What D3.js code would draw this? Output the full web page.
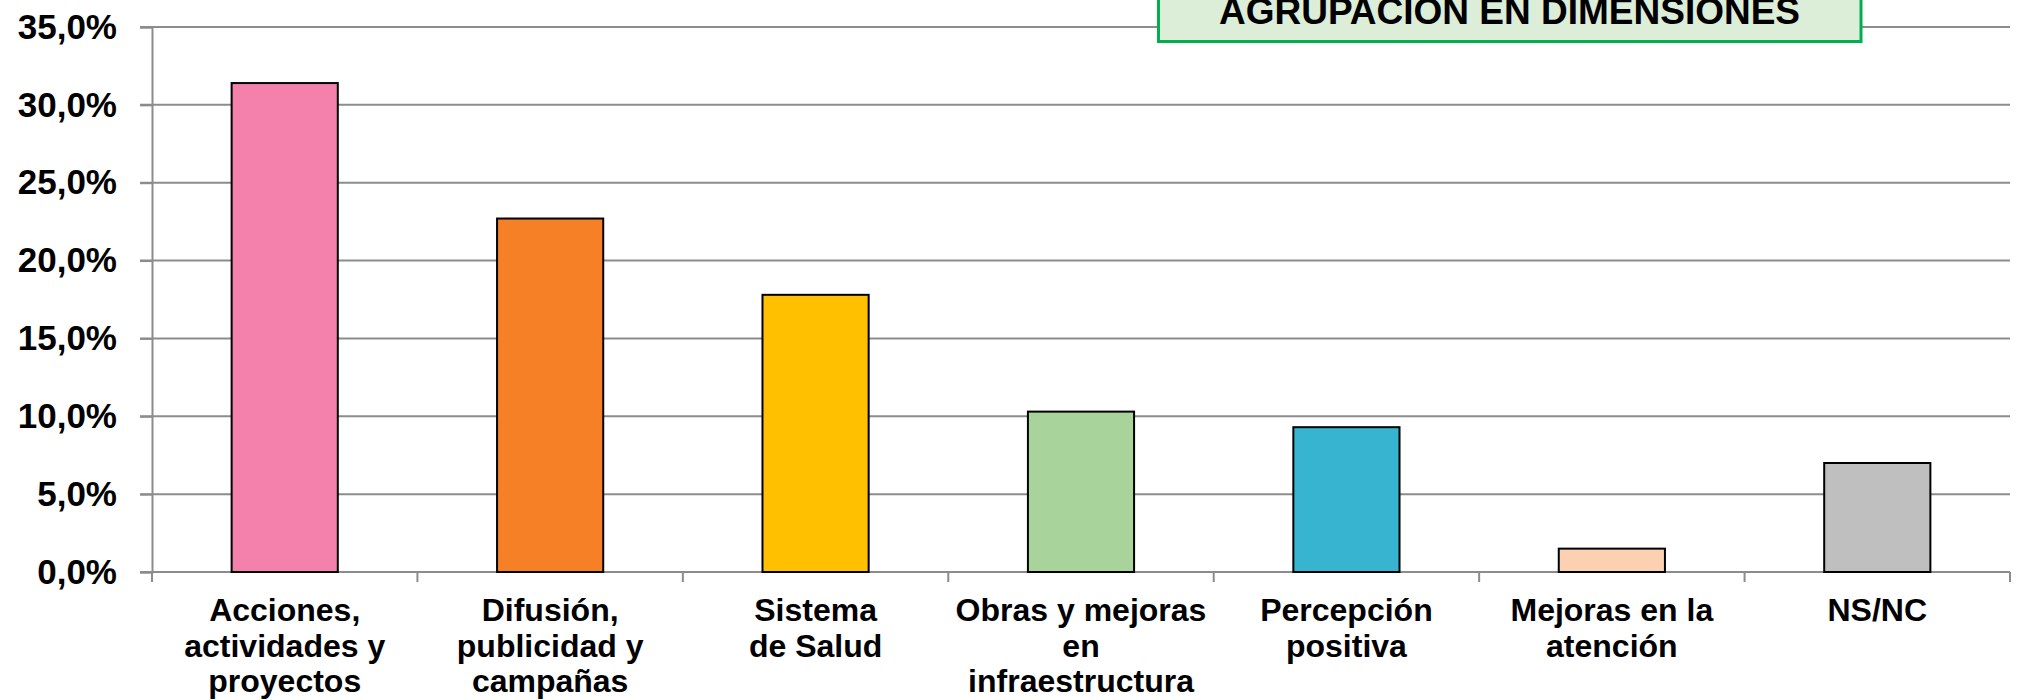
<!DOCTYPE html>
<html>
<head>
<meta charset="utf-8">
<script src="https://cdn.jsdelivr.net/npm/d3@7"></script>
<style>
  body { margin: 0; background: #fff; }
  svg { display: block; font-family: Arial, "Liberation Sans", sans-serif; }
</style>
</head>
<body>
<div id="chart"></div>
<script>
const categories = [
    ["Acciones,", "actividades y", "proyectos"],
    ["Difusión,", "publicidad y", "campañas"],
    ["Sistema", "de Salud"],
    ["Obras y mejoras", "en", "infraestructura"],
    ["Percepción", "positiva"],
    ["Mejoras en la", "atención"],
    ["NS/NC"]
];
const values = [31.4, 22.7, 17.8, 10.3, 9.3, 1.5, 7.0];
const colors = ["#F481AC", "#F58025", "#FFC000", "#A8D49C", "#37B4CF", "#FBD1B1", "#BFBFBF"];
const yTicks = [0, 5, 10, 15, 20, 25, 30, 35];
const title = "AGRUPACION EN DIMENSIONES";

const width = 2019, height = 700;
const margin = { top: 27, right: 9, bottom: 128, left: 152 };

const svg = d3.select("#chart")
    .append("svg")
    .attr("width", width)
    .attr("height", height);

const x = d3.scaleBand()
    .domain(d3.range(categories.length))
    .range([margin.left, width - margin.right])
    .paddingInner(0.6)
    .paddingOuter(0.3);

const y = d3.scaleLinear()
    .domain([0, 35])
    .range([height - margin.bottom, margin.top]);

const fmt = d => d.toFixed(1).replace(".", ",") + "%";

// gridlines
svg.append("g")
    .selectAll("line")
    .data(yTicks)
    .enter()
    .append("line")
    .attr("x1", margin.left - 12)
    .attr("x2", width - margin.right)
    .attr("y1", d => y(d))
    .attr("y2", d => y(d))
    .attr("stroke", "#8C8C8C")
    .attr("stroke-width", 2);

// Y axis
const yAxis = svg.append("g")
    .attr("transform", `translate(${margin.left}, 0)`)
    .call(d3.axisLeft(y).tickValues(yTicks).tickFormat(fmt).tickSize(12).tickPadding(23));
yAxis.selectAll("text")
    .attr("font-size", "35px")
    .attr("font-weight", "bold")
    .attr("fill", "#000")
    .attr("font-family", "Arial, 'Liberation Sans', sans-serif");

svg.selectAll(".domain").attr("stroke", "#8C8C8C").attr("stroke-width", 2);
svg.selectAll(".tick line").attr("stroke", "#8C8C8C").attr("stroke-width", 2);

// X axis ticks at category boundaries
const bounds = d3.range(categories.length + 1)
    .map(i => margin.left + i * (width - margin.right - margin.left) / categories.length);
svg.append("g")
    .selectAll("line")
    .data(bounds)
    .enter()
    .append("line")
    .attr("x1", d => d)
    .attr("x2", d => d)
    .attr("y1", y(0))
    .attr("y2", y(0) + 10)
    .attr("stroke", "#8C8C8C")
    .attr("stroke-width", 2);

svg.append("line")
    .attr("x1", margin.left)
    .attr("x2", width - margin.right)
    .attr("y1", y(0))
    .attr("y2", y(0))
    .attr("stroke", "#8C8C8C")
    .attr("stroke-width", 2);

// Bars
svg.selectAll("rect.bar")
    .data(values)
    .enter()
    .append("rect")
    .attr("class", "bar")
    .attr("x", (d, i) => x(i))
    .attr("y", d => y(d))
    .attr("width", x.bandwidth())
    .attr("height", d => y(0) - y(d))
    .attr("fill", (d, i) => colors[i])
    .attr("stroke", "#000")
    .attr("stroke-width", 2);

// Category labels
const labels = svg.selectAll("text.cat")
    .data(categories)
    .enter()
    .append("text")
    .attr("class", "cat")
    .attr("text-anchor", "middle")
    .attr("font-size", "32px")
    .attr("font-weight", "bold")
    .attr("fill", "#000");
labels.each(function (lines, i) {
    const t = d3.select(this);
    lines.forEach((ln, j) => {
        t.append("tspan")
            .attr("x", x(i) + x.bandwidth() / 2)
            .attr("y", 621 + j * 35.5)
            .text(ln);
    });
});

// Title box (cut off at the top edge, as in the original)
svg.append("rect")
    .attr("x", 1158.5)
    .attr("y", -10)
    .attr("width", 1861 - 1158.5)
    .attr("height", 51.5)
    .attr("fill", "#DCEDD8")
    .attr("stroke", "#00B050")
    .attr("stroke-width", 3);

svg.append("text")
    .attr("x", (1157 + 1862) / 2)
    .attr("y", 24)
    .attr("text-anchor", "middle")
    .attr("font-size", "37px")
    .attr("font-weight", "bold")
    .attr("fill", "#000")
    .text(title);
</script>
</body>
</html>
